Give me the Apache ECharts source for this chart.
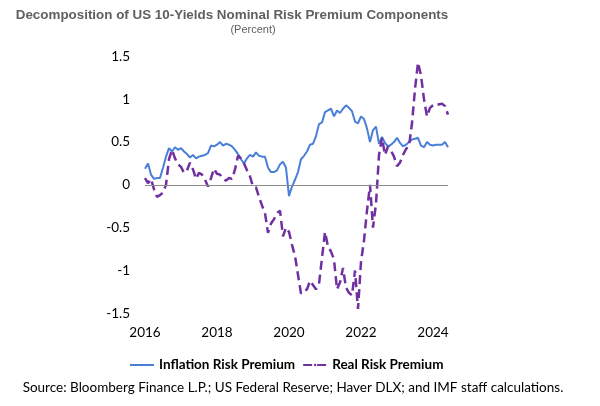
<!DOCTYPE html>
<html>
<head>
<meta charset="utf-8">
<script src="https://cdn.jsdelivr.net/npm/echarts@6/dist/echarts.min.js"></script>
<style>html,body{margin:0;padding:0;background:#fff}#c{width:600px;height:406px}</style>
</head>
<body>
<div id="c"></div>
<script>
// Monthly data starting January 2016
const startYear = 2016;
const xTicks = [2016, 2018, 2020, 2022, 2024];
const inflationRiskPremium = [
  0.19, 0.25, 0.12, 0.07, 0.08, 0.08, 0.20, 0.33, 0.43, 0.39, 0.44, 0.41,
  0.43, 0.39, 0.36, 0.32, 0.35, 0.31, 0.33, 0.34, 0.35, 0.37, 0.46, 0.45,
  0.47, 0.50, 0.46, 0.48, 0.47, 0.45, 0.41, 0.36, 0.30, 0.25, 0.31, 0.35,
  0.33, 0.38, 0.34, 0.33, 0.33, 0.20, 0.15, 0.15, 0.17, 0.24, 0.27, 0.20,
  -0.13, -0.02, 0.06, 0.15, 0.30, 0.34, 0.39, 0.47, 0.48, 0.57, 0.71, 0.73,
  0.85, 0.87, 0.89, 0.80, 0.87, 0.84, 0.89, 0.93, 0.90, 0.86, 0.74, 0.72,
  0.80, 0.77, 0.66, 0.50, 0.64, 0.68, 0.48, 0.56, 0.49, 0.45, 0.47, 0.50,
  0.55, 0.49, 0.45, 0.47, 0.50, 0.53, 0.54, 0.55, 0.46, 0.44, 0.50, 0.47,
  0.46, 0.47, 0.47, 0.47, 0.50, 0.44
];
const realRiskPremium = [
  0.08, 0.02, 0.07, -0.05, -0.14, -0.12, -0.09, 0.00, 0.30, 0.41, 0.31, 0.24,
  0.21, 0.14, 0.17, 0.26, 0.18, 0.07, 0.14, 0.12, 0.06, -0.02, 0.08, 0.19,
  0.13, 0.12, 0.07, 0.05, 0.08, 0.07, 0.18, 0.34, 0.31, 0.25, 0.17, 0.10,
  -0.02, -0.03, -0.14, -0.24, -0.33, -0.56, -0.45, -0.40, -0.33, -0.30, -0.60, -0.50,
  -0.55, -0.70, -0.83, -1.05, -1.27, -1.24, -1.22, -1.12, -1.17, -1.22, -1.16, -0.85,
  -0.55, -0.72, -0.78, -0.87, -1.22, -1.14, -0.97, -1.20, -1.26, -1.29, -1.00, -1.45,
  -0.90, -0.65, -0.30, 0.00, -0.50, -0.22, 0.35, 0.55, 0.35, 0.45, 0.40, 0.33,
  0.22, 0.26, 0.35, 0.42, 0.45, 0.72, 1.12, 1.43, 1.28, 1.00, 0.80, 0.90,
  0.93, 0.95, 0.94, 0.95, 0.92, 0.82
];
const yTicks = [-1.5, -1, -0.5, 0, 0.5, 1, 1.5];

const toXY = arr => arr.map((v, i) => [startYear + i / 12, v]);
const lastX = startYear + (inflationRiskPremium.length - 1) / 12;

const chart = echarts.init(document.getElementById('c'), null, {renderer: 'canvas'});
const font = 'Lato, "Open Sans", sans-serif';
chart.setOption({
  animation: false,
  backgroundColor: '#fff',
  grid: {left: 145, right: 152, top: 56.5, bottom: 92.7, containLabel: false},
  xAxis: {
    type: 'value', min: xTicks[0], max: lastX, interval: 2,
    axisLine: {show: false, onZero: false}, axisTick: {show: false}, splitLine: {show: false},
    axisLabel: {
      margin: 12, color: '#000', fontFamily: font, fontSize: 13.5,
      showMaxLabel: false,
      formatter: v => (Math.abs(v - Math.round(v)) < 1e-6 && xTicks.includes(Math.round(v))) ? String(Math.round(v)) : ''
    }
  },
  yAxis: {
    type: 'value', min: yTicks[0], max: yTicks[yTicks.length - 1], interval: 0.5,
    axisLine: {show: false}, axisTick: {show: false}, splitLine: {show: false},
    axisLabel: {margin: 15, color: '#000', fontFamily: font, fontSize: 13.5, formatter: v => String(v)}
  },
  legend: {
    left: 124, top: 353, itemWidth: 24, itemHeight: 3, itemGap: 7,
    textStyle: {fontFamily: font, fontSize: 13.5, fontWeight: 'bold', color: '#000'},
    data: ['Inflation Risk Premium', 'Real Risk Premium']
  },
  series: [
    {
      name: 'Inflation Risk Premium', type: 'line', data: toXY(inflationRiskPremium),
      showSymbol: false, symbol: 'none', lineStyle: {color: '#4A7FD8', width: 2}, itemStyle: {color: '#4A7FD8'},
      markLine: {
        silent: true, symbol: 'none', label: {show: false},
        lineStyle: {color: '#8c8c8c', width: 1.2, type: 'solid'},
        data: [{yAxis: 0}]
      },
      z: 3
    },
    {
      name: 'Real Risk Premium', type: 'line', data: toXY(realRiskPremium),
      showSymbol: false, symbol: 'none', lineStyle: {color: '#7030A0', width: 2.5, type: [9, 5]}, itemStyle: {color: '#7030A0'},
      z: 4
    }
  ],
  graphic: [
    {type: 'text', x: 232, y: 15, style: {text: 'Decomposition of US 10-Yields Nominal Risk Premium Components', fill: '#5f5f5f', fontFamily: '"Liberation Sans", Arial, sans-serif', fontWeight: 'bold', fontSize: 13.4, textAlign: 'center', textVerticalAlign: 'middle'}},
    {type: 'text', x: 253, y: 30, style: {text: '(Percent)', fill: '#5f5f5f', fontFamily: '"Liberation Sans", Arial, sans-serif', fontSize: 11, textAlign: 'center', textVerticalAlign: 'middle'}},
    {type: 'text', x: 293, y: 388, style: {text: 'Source: Bloomberg Finance L.P.; US Federal Reserve; Haver DLX; and IMF staff calculations.', fill: '#000', fontFamily: 'Lato, "Open Sans", sans-serif', fontSize: 13.5, textAlign: 'center', textVerticalAlign: 'middle'}}
  ]
});
</script>
</body>
</html>
